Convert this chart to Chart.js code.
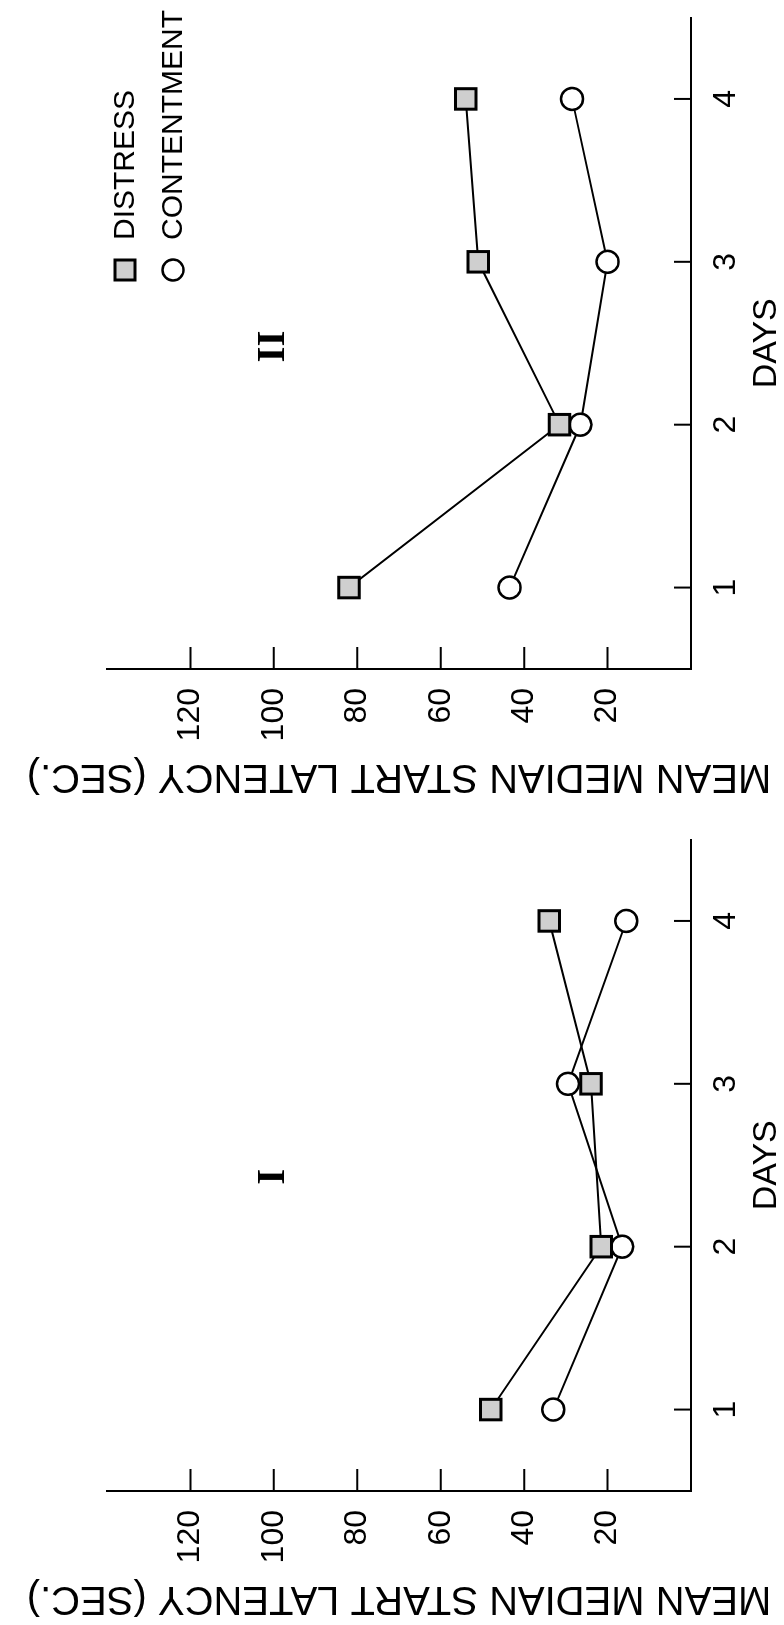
<!DOCTYPE html>
<html>
<head>
<meta charset="utf-8">
<script src="https://cdn.jsdelivr.net/npm/chart.js@4"></script>
<style>
  html, body { margin: 0; padding: 0; background: #fff; overflow: hidden; }
  /* the figure is laid out landscape and turned a quarter turn to sit upright on the page */
  #figure {
    position: absolute; left: 0; top: 0;
    width: 1625px; height: 784px;
    transform-origin: 0 0;
    transform: translateY(1625px) rotate(-90deg);
  }
  #figure canvas { position: absolute; top: 0; }
</style>
</head>
<body>
<div id="figure">
  <canvas id="panel1" width="803" height="784" style="left:0"></canvas>
  <canvas id="panel2" width="803" height="784" style="left:822px"></canvas>
</div>
<script>
const days = [1, 2, 3, 4];
const latencyTicks = [20, 40, 60, 80, 100, 120];

// experiment I
const distressI = [48, 21.5, 24, 34];
const contentmentI = [33, 16.5, 29.5, 15.5];

// experiment II
const distressII = [82, 31.5, 51, 54];
const contentmentII = [43.5, 26.5, 20, 28.5];

Chart.defaults.font.family = "'Liberation Sans', Arial, sans-serif";
Chart.defaults.color = '#000';

const toPoints = vals => days.map((d, i) => ({ x: d, y: vals[i] }));

// short tick marks pointing into the plot, plus panel numeral and key
const figureMarks = {
  id: 'figureMarks',
  afterDraw(chart, args, opts) {
    const { ctx, chartArea, scales: { x, y } } = chart;
    ctx.save();
    ctx.strokeStyle = '#000';
    ctx.lineWidth = 2;
    ctx.beginPath();
    x.ticks.forEach(t => {
      const px = x.getPixelForValue(t.value);
      ctx.moveTo(px, chartArea.bottom);
      ctx.lineTo(px, chartArea.bottom - 17);
    });
    y.ticks.forEach(t => {
      const py = y.getPixelForValue(t.value);
      ctx.moveTo(chartArea.left, py);
      ctx.lineTo(chartArea.left + 22, py);
    });
    ctx.stroke();

    // roman numeral for the experiment
    ctx.fillStyle = '#000';
    ctx.font = "bold 41px 'Liberation Serif', serif";
    ctx.textAlign = 'center';
    ctx.textBaseline = 'middle';
    ctx.fillText(opts.numeral, x.getPixelForValue(opts.numeralDay), y.getPixelForValue(100));

    if (opts.key) {
      const kx = chartArea.left + 399;
      const rows = [chartArea.top + 18, chartArea.top + 66];
      // square: distress
      ctx.fillStyle = '#cfcfcf';
      ctx.lineWidth = 3;
      ctx.fillRect(kx - 10, rows[0] - 10, 20, 20);
      ctx.strokeRect(kx - 10, rows[0] - 10, 20, 20);
      // circle: contentment
      ctx.fillStyle = '#fff';
      ctx.lineWidth = 2.5;
      ctx.beginPath();
      ctx.arc(kx, rows[1], 10.5, 0, Math.PI * 2);
      ctx.fill();
      ctx.stroke();
      ctx.fillStyle = '#000';
      ctx.font = "30px 'Liberation Sans', Arial, sans-serif";
      ctx.textAlign = 'left';
      ctx.fillText('DISTRESS', kx + 30, rows[0] + 1);
      ctx.fillText('CONTENTMENT', kx + 30, rows[1] + 1);
    }
    ctx.restore();
  }
};

function makePanel(id, distress, contentment, numeral, numeralDay, key, padRight) {
  new Chart(document.getElementById(id), {
    type: 'line',
    data: {
      datasets: [{
        label: 'DISTRESS',
        data: toPoints(distress),
        borderColor: '#000',
        borderWidth: 2,
        pointStyle: 'rect',
        pointRadius: 14.5,
        pointBackgroundColor: '#cfcfcf',
        pointBorderColor: '#000',
        pointBorderWidth: 3,
        tension: 0,
        fill: false
      }, {
        label: 'CONTENTMENT',
        data: toPoints(contentment),
        borderColor: '#000',
        borderWidth: 2,
        pointStyle: 'circle',
        pointRadius: 11,
        pointBackgroundColor: '#fff',
        pointBorderColor: '#000',
        pointBorderWidth: 2.5,
        tension: 0,
        fill: false
      }]
    },
    options: {
      responsive: false,
      animation: false,
      layout: { padding: { top: 107, right: padRight, bottom: 0, left: 0 } },
      plugins: {
        legend: { display: false },
        tooltip: { enabled: false },
        figureMarks: { numeral: numeral, numeralDay: numeralDay, key: key }
      },
      scales: {
        x: {
          type: 'linear',
          min: 0.5,
          max: 4.5,
          afterBuildTicks: s => { s.ticks = days.map(v => ({ value: v })); },
          afterFit: s => { s.height = 93; },
          grid: { display: false, drawTicks: false },
          border: { display: true, color: '#000', width: 2 },
          ticks: { padding: 16, font: { size: 32 } },
          title: { display: true, text: 'DAYS', font: { size: 34, lineHeight: 1 }, padding: 0 }
        },
        y: {
          type: 'linear',
          min: 0,
          max: 140,
          afterBuildTicks: s => { s.ticks = latencyTicks.map(v => ({ value: v })); },
          afterFit: s => { s.width = 134; },
          grid: { display: false, drawTicks: false },
          border: { display: true, color: '#000', width: 2 },
          ticks: { padding: 19, font: { size: 32 } },
          title: {
            display: true,
            text: 'MEAN MEDIAN START LATENCY (SEC.)',
            font: { size: 40 },
            padding: { top: 3, bottom: 0 }
          }
        }
      }
    },
    plugins: [figureMarks]
  });
}

makePanel('panel1', distressI, contentmentI, 'I', 2.43, false, 11);
makePanel('panel2', distressII, contentmentII, 'II', 2.48, true, 8);
</script>
</body>
</html>
